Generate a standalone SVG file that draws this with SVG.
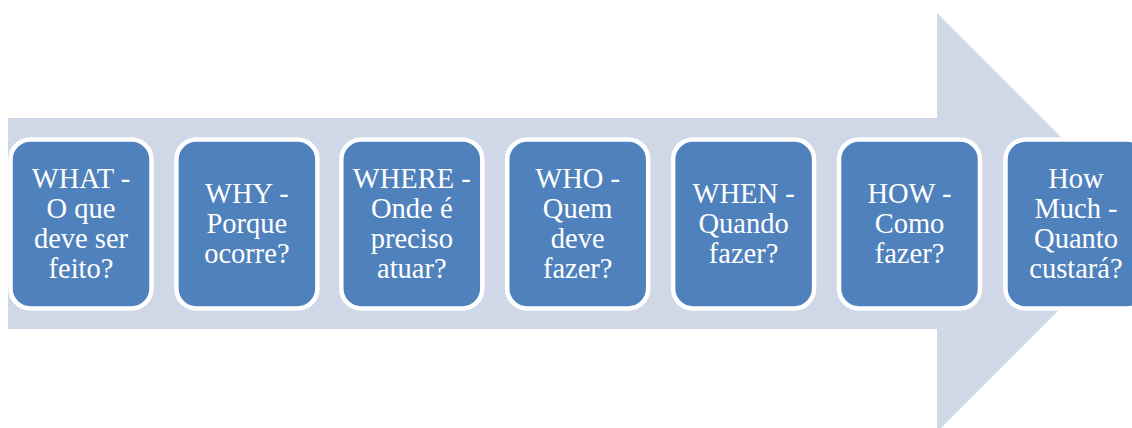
<svg xmlns="http://www.w3.org/2000/svg" width="1132" height="428" viewBox="0 0 1132 428">
<style>
.box{fill:#4F81BD;stroke:#FFFFFF;stroke-width:4.5}
.t{font-family:'Liberation Serif','Tinos','DejaVu Serif',serif;font-size:28.5px;fill:#FFFFFF;text-anchor:middle}
</style>
<rect width="1132" height="428" fill="#FFFFFF"/>
<polygon id="arrow" points="8,118 937,118 937,13 1146.5,222.5 937,432 937,329 8,329" fill="#D0D8E8"/>
<g id="n1"><rect class="box" x="10.5" y="139.5" width="141" height="169" rx="20"/>
<text class="t" x="81" y="188">WHAT -</text><text class="t" x="81" y="218">O que</text><text class="t" x="81" y="248">deve ser</text><text class="t" x="81" y="278">feito?</text></g>
<g id="n2"><rect class="box" x="176.4" y="139.5" width="141" height="169" rx="20"/>
<text class="t" x="246.9" y="203">WHY -</text><text class="t" x="246.9" y="233">Porque</text><text class="t" x="246.9" y="263">ocorre?</text></g>
<g id="n3"><rect class="box" x="341.3" y="139.5" width="141" height="169" rx="20"/>
<text class="t" x="411.8" y="188">WHERE -</text><text class="t" x="411.8" y="218">Onde é</text><text class="t" x="411.8" y="248">preciso</text><text class="t" x="411.8" y="278">atuar?</text></g>
<g id="n4"><rect class="box" x="507.2" y="139.5" width="141" height="169" rx="20"/>
<text class="t" x="577.7" y="188">WHO -</text><text class="t" x="577.7" y="218">Quem</text><text class="t" x="577.7" y="248">deve</text><text class="t" x="577.7" y="278">fazer?</text></g>
<g id="n5"><rect class="box" x="673.1" y="139.5" width="141" height="169" rx="20"/>
<text class="t" x="743.6" y="203">WHEN -</text><text class="t" x="743.6" y="233">Quando</text><text class="t" x="743.6" y="263">fazer?</text></g>
<g id="n6"><rect class="box" x="839" y="139.5" width="141" height="169" rx="20"/>
<text class="t" x="909.5" y="203">HOW -</text><text class="t" x="909.5" y="233">Como</text><text class="t" x="909.5" y="263">fazer?</text></g>
<g id="n7"><rect class="box" x="1005.5" y="139.5" width="141" height="169" rx="20"/>
<text class="t" x="1076" y="188">How</text><text class="t" x="1076" y="218">Much -</text><text class="t" x="1076" y="248">Quanto</text><text class="t" x="1076" y="278">custará?</text></g>
<g id="connectors"></g>
</svg>
